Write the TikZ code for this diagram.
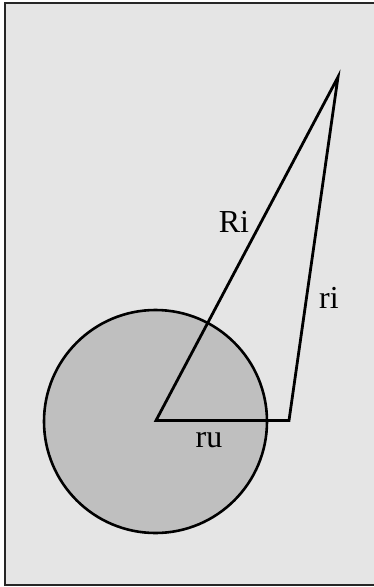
\documentclass[tikz,border=0pt]{standalone}
\usepackage{fontspec}
\setmainfont{Liberation Serif}
\begin{document}
\begin{tikzpicture}[x=1pt,y=-1pt,
  frame/.style={draw=black!85,line width=2.2pt,fill=black!10},
  disc/.style={draw=black,line width=2.6pt,fill=black!25},
  edge/.style={draw=black,line width=2.8pt,line join=miter},
  lbl/.style={font=\fontsize{32}{32}\selectfont,inner sep=0pt,anchor=base}]
\useasboundingbox (0,0) rectangle (373,587);
\fill[white] (0,0) rectangle (373,587);
\path[frame] (5,3) rectangle (378,585);
\node[disc,circle,minimum size=223pt,inner sep=0pt] (c) at (155.5,421.5) {};
\coordinate (o) at (156,420.5);
\coordinate (t) at (338,77);
\coordinate (r) at (289,420.5);
\draw[edge] (o) -- (t) -- (r) -- cycle;
\node[lbl] (Ri) at (234,232) {Ri};
\node[lbl] (ri) at (329,308) {ri};
\node[lbl] (ru) at (209,447) {ru};
\end{tikzpicture}
\end{document}
